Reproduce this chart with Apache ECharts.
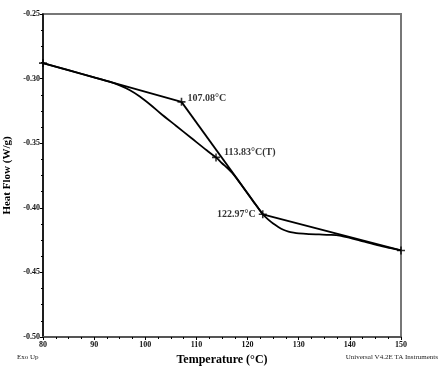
<!DOCTYPE html>
<html>
<head>
<meta charset="utf-8">
<script src="https://cdn.jsdelivr.net/npm/echarts@6/dist/echarts.min.js"></script>
<style>
  html, body { margin: 0; padding: 0; background: #fff; }
  #chart { width: 444px; height: 377px; }
</style>
</head>
<body>
<div id="chart"></div>
<script>
// DSC curve
const temps = [80, 85, 90, 93, 95, 97, 99, 101, 103, 106, 109, 112, 113.83, 115, 116, 117, 118, 119, 120, 121, 122, 122.97, 124, 125, 126, 127, 128, 129, 130, 132, 134, 136, 138, 140, 142, 145, 148, 150]
const heatFlow = [-0.288, -0.2935, -0.299, -0.3024, -0.3053, -0.309, -0.314, -0.3202, -0.327, -0.3365, -0.346, -0.3555, -0.361, -0.3655, -0.369, -0.373, -0.378, -0.3835, -0.389, -0.3945, -0.3998, -0.405, -0.409, -0.4122, -0.4148, -0.417, -0.4185, -0.4193, -0.4198, -0.4203, -0.4206, -0.4209, -0.4215, -0.4233, -0.4254, -0.4285, -0.4312, -0.433]

// construction lines (onset / end tangents)
const tangentBefore = [[80, -0.288], [107.08, -0.318]]
const tangentSteep = [[107.08, -0.318], [122.97, -0.405]]
const tangentAfter = [[122.97, -0.405], [150, -0.433]]

// analysis markers
const markTemps = [80, 107.08, 113.83, 122.97, 150]
const markValues = [-0.288, -0.318, -0.361, -0.405, -0.433]
const markLabels = ['', '107.08°C', '113.83°C(T)', '122.97°C', '']

const xTicks = [80, 90, 100, 110, 120, 130, 140, 150]
const yTicks = [-0.5, -0.45, -0.4, -0.35, -0.3, -0.25]

const font = '"Liberation Serif", "DejaVu Serif", serif'
const chart = echarts.init(document.getElementById('chart'))

const lineStyle = { color: '#000', width: 1.8 }
const plus = 'path://M4,0h2v4h4v2h-4v4h-2v-4h-4v-2h4z'

chart.setOption({
  animation: false,
  grid: {
    left: 43, right: 43, top: 14, bottom: 40,
    outerBoundsMode: 'none',
    show: true, borderColor: '#777', borderWidth: 2
  },
  xAxis: {
    type: 'value',
    min: xTicks[0],
    max: xTicks[xTicks.length - 1],
    interval: 10,
    name: 'Temperature (°C)',
    nameLocation: 'middle',
    nameGap: 16,
    nameTextStyle: { fontFamily: font, fontWeight: 'bold', fontSize: 12, color: '#000' },
    axisLine: { lineStyle: { color: '#555', width: 2 } },
    axisTick: { length: 3, lineStyle: { color: '#000' } },
    minorTick: { show: true, splitNumber: 4, length: 2, lineStyle: { color: '#000' } },
    splitLine: { show: false },
    axisLabel: { fontFamily: font, fontWeight: 'bold', fontSize: 8, color: '#111', margin: 4 }
  },
  yAxis: {
    type: 'value',
    min: yTicks[0],
    max: yTicks[yTicks.length - 1],
    interval: 0.05,
    name: 'Heat Flow (W/g)',
    nameLocation: 'middle',
    nameGap: 28,
    nameTextStyle: { fontFamily: font, fontWeight: 'bold', fontSize: 11, color: '#000' },
    axisLine: { lineStyle: { color: '#000', width: 1.5 } },
    axisTick: { length: 3, lineStyle: { color: '#000' } },
    minorTick: { show: true, splitNumber: 4, length: 2, lineStyle: { color: '#000' } },
    splitLine: { show: false },
    axisLabel: { fontFamily: font, fontWeight: 'bold', fontSize: 8, color: '#111', margin: 3, formatter: v => v.toFixed(2) }
  },
  graphic: [
    { type: 'text', left: 17, top: 354, style: { text: 'Exo Up', font: '7px ' + font, fill: '#222' } },
    { type: 'text', right: 6, top: 354, style: { text: 'Universal V4.2E TA Instruments', font: '7px ' + font, fill: '#222' } }
  ],
  series: [
    { type: 'line', data: temps.map((t, i) => [t, heatFlow[i]]), smooth: 0.3, showSymbol: false, lineStyle, z: 3 },
    { type: 'line', data: tangentBefore, showSymbol: false, lineStyle, z: 3 },
    { type: 'line', data: tangentSteep, showSymbol: false, lineStyle, z: 3 },
    { type: 'line', data: tangentAfter, showSymbol: false, lineStyle, z: 3 },
    {
      type: 'scatter',
      data: markTemps.map((t, i) => ({
        value: [t, markValues[i]],
        name: markLabels[i],
        label: i === 3 ? { position: 'left', distance: 3 } : { position: 'right', distance: 2, offset: i === 2 ? [2, -5] : [0, -3] }
      })),
      symbol: plus,
      symbolSize: 8,
      itemStyle: { color: '#000' },
      label: {
        show: true,
        formatter: p => p.name,
        fontFamily: font,
        fontWeight: 'bold',
        fontSize: 10,
        color: '#000'
      },
      z: 5
    }
  ]
})
</script>
</body>
</html>
